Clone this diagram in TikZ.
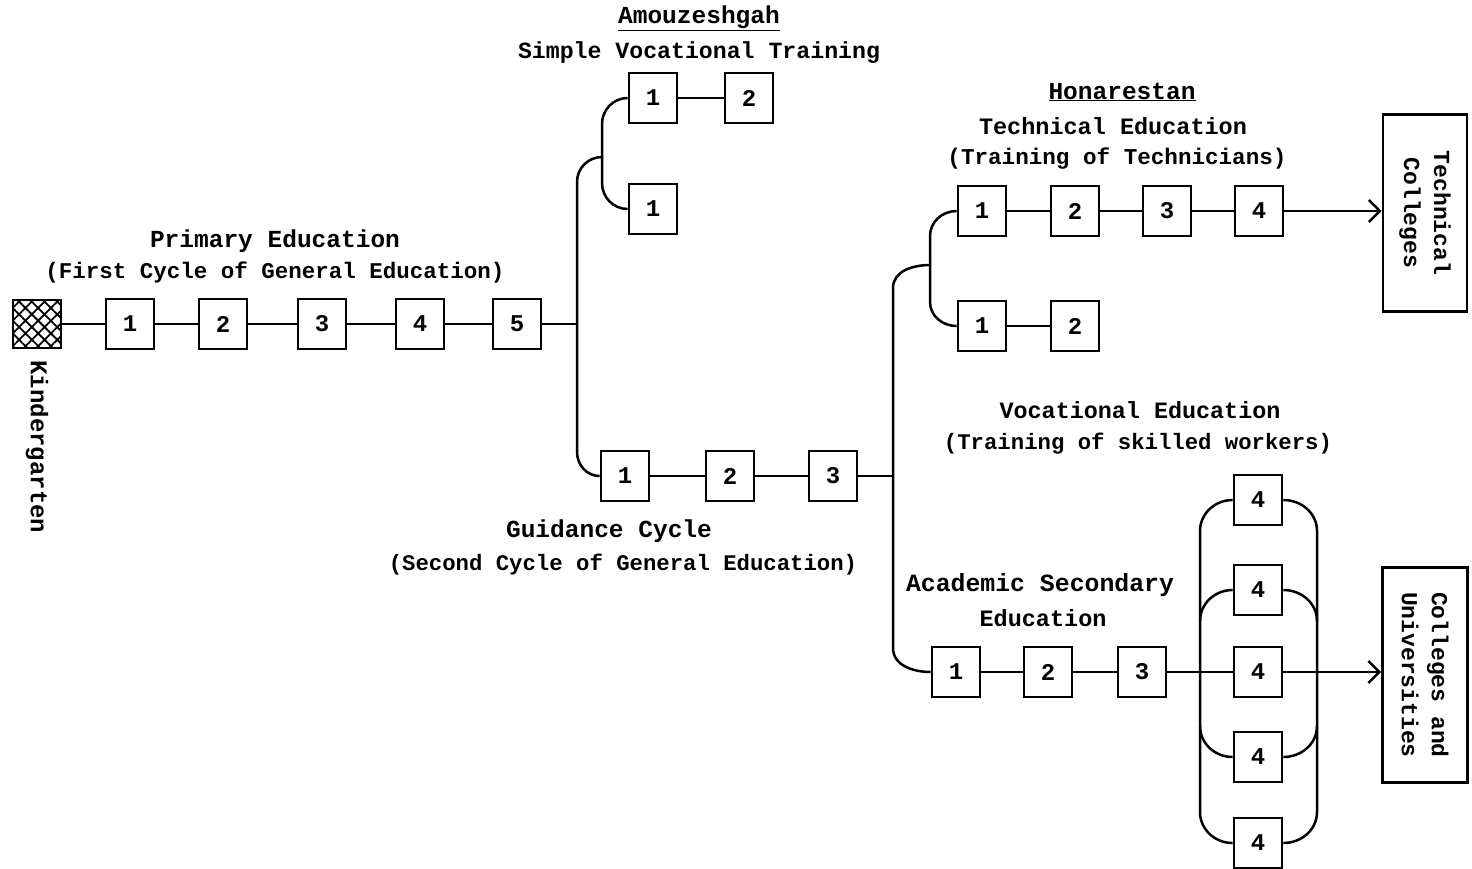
\documentclass[tikz,border=0pt]{standalone}
\usepackage{fontspec}
\setmainfont{Liberation Mono}
\usetikzlibrary{arrows.meta,patterns.meta}
\begin{document}
\begin{tikzpicture}[x=1pt,y=-1pt,
  yr/.style={draw,line width=2.8pt,minimum width=48pt,minimum height=50pt,inner sep=0pt,font=\fontsize{24}{26}\selectfont\bfseries},
  ln/.style={line width=2.5pt},
  lbl/.style={inner sep=0pt,font=\fontsize{#1}{28}\selectfont\bfseries},
  arr/.style={ln,-{Straight Barb[length=11pt,width=22pt,line width=2.5pt]}},
  endbox/.style={draw,line width=2.8pt,inner sep=0pt,rotate=-90,align=center,font=\fontsize{23}{30}\selectfont\bfseries}]
\useasboundingbox (0,0) rectangle (1472,868);

% kindergarten
\node[draw,line width=2.8pt,minimum size=48pt,inner sep=0pt,pattern={Hatch[angle=45,distance=9pt,line width=1.8pt]}] (kg) at (37,324) {};
\node[lbl=24,rotate=-90] (kgt) at (37,447) {Kindergarten};

% primary
\node[yr] (p1) at (130,324) {1};
\node[yr] (p2) at (223,324) {2};
\node[yr] (p3) at (322,324) {3};
\node[yr] (p4) at (420,324) {4};
\node[yr] (p5) at (517,324) {5};
\node[lbl=24.5] (pt1) at (275,241) {Primary Education};
\node[lbl=22.5] (pt2) at (275,273) {(First Cycle of General Education)};
\draw[ln] (kg) -- (p1) (p1) -- (p2) (p2) -- (p3) (p3) -- (p4) (p4) -- (p5);

% amouzeshgah
\node[yr] (a1) at (653,98) {1};
\node[yr] (a2) at (749,98) {2};
\node[yr] (a3) at (653,209) {1};
\node[lbl=24.5] (at1) at (699,18) {\underline{Amouzeshgah}};
\node[lbl=23.2] (at2) at (699,53) {Simple Vocational Training};
\draw[ln] (a1) -- (a2);

% guidance
\node[yr] (g1) at (625,476) {1};
\node[yr] (g2) at (730,476) {2};
\node[yr] (g3) at (833,476) {3};
\node[lbl=24.5] (gt1) at (609,531) {Guidance Cycle};
\node[lbl=22.3] (gt2) at (623,565) {(Second Cycle of General Education)};
\draw[ln] (g1) -- (g2) (g2) -- (g3);

% junctions first split
\coordinate (j1) at (577,324);
\coordinate (j1t) at (577,182);
\coordinate (j1b) at (577,452);
\coordinate (j2) at (602,157);
\coordinate (j2t) at (602,124);
\coordinate (j2b) at (602,183);
\draw[ln] (p5) -- (j1);
\draw[ln] (j2) to[out=180,in=90] (j1t) -- (j1b) to[out=-90,in=180] (g1.west);
\draw[ln] (a1.west) to[out=180,in=90] (j2t) -- (j2b) to[out=-90,in=180] (a3.west);

% honarestan / technical
\node[yr] (t1) at (982,211) {1};
\node[yr] (t2) at (1075,211) {2};
\node[yr] (t3) at (1167,211) {3};
\node[yr] (t4) at (1259,211) {4};
\node[yr] (v1) at (982,326) {1};
\node[yr] (v2) at (1075,326) {2};
\node[lbl=24.5] (ht1) at (1122,92) {\underline{Honarestan}};
\node[lbl=23.5] (ht2) at (1113,126) {Technical Education};
\node[lbl=22.6] (ht3) at (1117,159) {(Training of Technicians)};
\node[lbl=23.4] (vt1) at (1140,410) {Vocational Education};
\node[lbl=22.3] (vt2) at (1138,444) {(Training of skilled workers)};
\draw[ln] (t1) -- (t2) (t2) -- (t3) (t3) -- (t4) (v1) -- (v2);
\node[endbox,minimum width=197pt,minimum height=84pt] (tc) at (1425,213) {Technical\\Colleges};
\draw[arr] (t4) -- (tc.south |- t4.east);

% academic
\node[yr] (ac1) at (956,672) {1};
\node[yr] (ac2) at (1048,672) {2};
\node[yr] (ac3) at (1142,672) {3};
\node[lbl=24.8] (act1) at (1040,585) {Academic Secondary};
\node[lbl=23.5] (act2) at (1043,618) {Education};
\draw[ln] (ac1) -- (ac2) (ac2) -- (ac3);

% second split
\coordinate (j3) at (893,476);
\coordinate (j3t) at (893,288);
\coordinate (j3b) at (893,648);
\coordinate (j4) at (930,265);
\coordinate (j4t) at (930,236);
\coordinate (j4b) at (930,302);
\draw[ln] (g3) -- (j3);
\draw[ln] (j4) to[out=180,in=90] (j3t) -- (j3b) to[out=-90,in=180] (ac1.west);
\draw[ln] (t1.west) to[out=180,in=90] (j4t) -- (j4b) to[out=-90,in=180] (v1.west);

% fourth-year cluster
\node[yr] (k1) at (1258,500) {4};
\node[yr] (k2) at (1258,590) {4};
\node[yr] (k3) at (1258,672) {4};
\node[yr] (k4) at (1258,757) {4};
\node[yr] (k5) at (1258,843) {4};
\coordinate (lt) at (1200,531);
\coordinate (lb) at (1200,812);
\coordinate (lm2) at (1200,621);
\coordinate (lm4) at (1200,726);
\coordinate (rt) at (1317,531);
\coordinate (rb) at (1317,812);
\coordinate (rm2) at (1317,621);
\coordinate (rm4) at (1317,726);
\draw[ln] (k1.west) to[out=180,in=90] (lt) -- (lb) to[out=-90,in=180] (k5.west);
\draw[ln] (k1.east) to[out=0,in=90] (rt) -- (rb) to[out=-90,in=0] (k5.east);
\draw[ln] (k2.west) to[out=180,in=90] (lm2);
\draw[ln] (k2.east) to[out=0,in=90] (rm2);
\draw[ln] (lm4) to[out=-90,in=180] (k4.west);
\draw[ln] (rm4) to[out=-90,in=0] (k4.east);
\draw[ln] (ac3) -- (k3);
\node[endbox,minimum width=215pt,minimum height=85pt] (cu) at (1425,675) {Colleges and\\Universities};
\draw[arr] (k3.east) -- (cu.south |- k3.east);
\end{tikzpicture}
\end{document}
